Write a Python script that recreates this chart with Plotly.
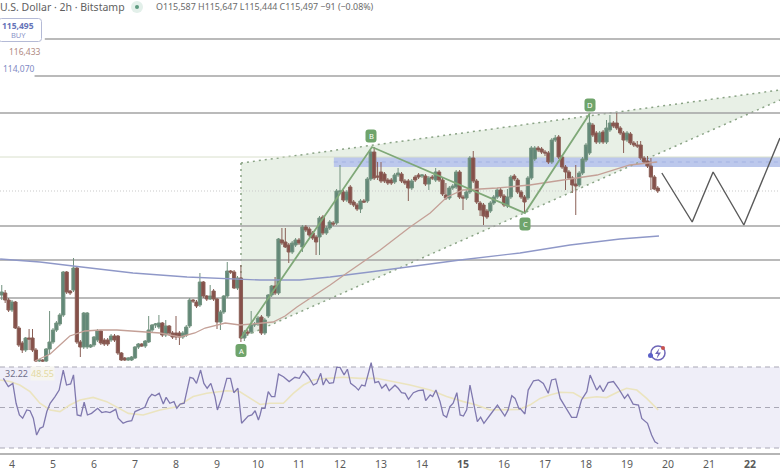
# BTC/USD 2h chart with XABCD pattern and RSI pane
import numpy as np
import plotly.graph_objects as go

COLOR_UP = "#628878"
COLOR_DOWN = "#86504a"
COLOR_WICK_UP = "#72927f"
COLOR_WICK_DOWN = "#8a5f56"
COLOR_LEVEL = "#a3a3a3"
COLOR_PATTERN = "#7fa878"
COLOR_LABEL = "#6fa46b"
COLOR_RSI = "#7f78ae"
COLOR_RSI_MA = "#ebe4bf"
FONT = "Noto Sans"

opens = [112380,112440,112230,111930,112170,111390,110940,110730,111090,111090,110730,110400,110430,110400,110760,110970,111330,111510,111780,113070,
         112500,112530,113190,110970,110820,110820,110820,110880,111030,111300,111030,111030,111030,111150,111150,110640,110490,110430,110430,110490,
         110820,110910,110850,110970,111330,111480,111420,111540,111180,111450,111240,111240,111240,111120,111180,111450,112230,112170,112080,112770,
         112350,112260,112500,112260,111570,111870,112350,113100,113070,112590,112890,111090,111270,111270,111480,111510,111720,111240,111750,112380,
         112650,112440,114030,113970,113880,113670,113880,114030,113820,114420,114360,114240,114120,114120,114720,114240,114390,114540,114540,115470,
         115470,115230,115620,115170,115080,114960,115200,115200,115860,116670,115950,116070,116010,115830,115830,115770,115980,116010,115800,115800,
         115590,115920,115980,115950,115950,115710,115920,115830,116070,115830,115380,115290,115590,115620,116070,115320,115290,115470,116490,115800,
         115140,115080,114900,114900,115140,115320,115530,115350,115050,115320,115950,115830,115470,115320,115290,115890,116460,116790,116760,116670,
         116640,116370,117030,117120,116520,116220,116070,115890,115710,115680,116040,116430,116640,117480,117240,116970,117270,116970,117330,117540,
         117540,117390,117240,117030,117210,116940,116880,116880,116490,116400,116250,115920,115590]
closes = [112470,112230,111930,112170,111390,110880,110730,111090,111060,110730,110400,110430,110400,110760,110970,111330,111540,111780,113070,112470,
          112440,113190,110970,110820,111840,111840,110880,111120,111300,110940,110910,110910,111150,111030,110640,110430,110430,110490,110520,110820,
          110910,110850,111000,111330,111480,111510,111540,111180,111450,111240,111120,111120,111120,111240,111420,112230,112200,112050,112770,112350,
          112260,112350,112260,111570,111870,112350,113100,113070,112590,112890,111090,111270,111240,111480,111510,111690,111240,111630,112380,112650,
          112440,114060,113940,113820,113670,113940,114030,113940,114420,114330,114180,114090,113970,114690,114240,114390,114570,114510,115500,115500,
          115230,115470,115140,115080,114960,115200,115170,115860,116670,115890,115920,115800,115800,115740,115740,115980,116040,115800,115740,115590,
          115800,115830,115920,115980,115710,115890,115890,116070,115830,115410,115290,115590,115650,116070,115320,115290,115470,116490,115800,115170,
          114930,114750,114720,115140,115320,115530,115350,115080,115320,115920,115860,115470,115320,115170,115890,116790,116790,116730,116670,116640,
          116370,117030,117090,116520,116220,116070,115890,115680,115650,116040,116460,116880,117540,117180,116970,117240,116970,117390,117540,117450,
          117390,117240,117030,117240,116940,116880,116850,116490,116370,116250,115920,115560,115500]
highs = [112680,112530,112290,112230,112200,111450,111000,111120,111360,111360,110790,110460,110460,110790,111900,111390,111600,111840,113100,113100,
         112530,113490,113250,111030,111870,111870,110910,111150,111360,111330,111090,111090,111210,111210,111180,110670,110520,110520,110550,110850,
         110940,110940,111030,111750,111510,111540,111780,111570,111630,111480,111300,111750,111300,111300,111480,112290,112260,112230,113040,112800,
         112380,112680,112560,112290,111930,112380,113370,113130,113130,112950,113280,111330,111330,111900,111570,111750,111780,111690,112410,112680,
         112920,114090,114390,114390,113940,114000,114090,114090,114480,114480,114420,114300,114180,114750,114780,114450,114630,114600,115560,116280,
         115530,115530,115680,115230,115140,115260,115260,115920,116730,116820,116370,116370,116070,115890,115890,116040,116190,116070,115860,115860,
         115860,115980,116040,116010,116010,115950,115980,116190,116130,115890,115740,115650,115710,116130,116130,115380,115530,116550,116700,115860,
         115200,115140,114960,115200,115380,115590,115590,115410,115560,115980,116010,115890,115530,115380,115950,116850,116850,116850,116820,116730,
         116700,117090,117180,117180,116580,116280,116130,115950,116280,116100,116520,116940,117840,117540,117300,117300,117330,117630,117780,117600,
         117840,117450,117300,117300,117270,117000,117000,117000,116550,116550,116490,115980,115650]
lows = [112230,112140,111870,111870,111360,110820,110640,110670,110730,110670,110370,110370,110370,110370,110610,110910,111270,111450,111720,112410,
        112380,112470,110910,110520,110760,110760,110790,110820,110970,110880,110850,110850,110970,110970,110580,110400,110400,110400,110400,110460,
        110760,110820,110790,110940,111270,111390,111360,111120,111120,111150,111060,111030,110880,111060,111120,111390,112140,111990,112020,112290,
        112200,112230,112200,111360,111330,111810,112290,113010,112560,112530,110970,111000,111180,111210,111420,111450,111180,111180,111690,112320,
        112380,112380,113880,113790,113340,113610,113820,113880,113670,114270,114120,114030,113580,113580,114180,114180,114330,114450,114480,115410,
        115170,115170,115080,115020,114900,114840,115140,115140,115800,115830,115830,115740,115740,115680,115680,115710,115920,115740,115680,115200,
        115530,115770,115860,115890,115650,115530,115830,115770,115770,115350,115230,115230,115530,115560,115260,114930,115230,115410,115740,115110,
        114750,114480,114660,114840,115080,115260,115290,115020,114990,115260,115800,115410,115260,114840,115230,115830,116400,116670,116610,116550,
        116310,116310,116970,116460,116160,115530,115830,115440,114780,115620,115980,116370,116580,117120,116910,116910,116910,116910,117270,117390,
        117330,117180,116640,116970,116880,116820,116790,116430,116310,116190,115530,115530,115440]
candle_day = 3.75 + np.arange(len(opens)) / 12

# moving averages, day / price
ma_red_day = [4.56,4.93,5.17,5.41,5.78,6.15,6.56,7.27,7.61,8.10,8.46,8.71,9.20,9.56,10.10,10.37,10.66,10.95,11.39,11.76,12.17,12.68,12.98,13.71,14.20,14.61,15.00,15.83,16.63,17.44,18.27,19.07,19.73]
ma_red = [110400,110610,110880,111150,111300,111330,111330,111270,111240,111120,111240,111390,111540,111480,111540,111570,111750,112020,112380,112680,113040,113490,113730,114420,114840,115320,115530,115590,115680,115830,115980,116280,116370]
ma_blue_day = [3.71,4.68,5.49,6.95,8.27,9.32,10.05,11.02,11.76,12.73,13.46,14.93,16.39,17.61,18.83,19.78]
ma_blue = [113460,113370,113250,113040,112920,112860,112830,112830,112920,113070,113190,113430,113640,113880,114060,114150]

# XABCD pattern, wedge and projection
wedge_day = [9.585,22.73,22.73,9.585]
wedge_price = [116340,118530,118230,111090]
zigzag_day = [9.585,12.78,16.51,18.10]
zigzag_price = [111090,116820,114840,117840]
zigzag_names = ["A","B","C","D"]
forecast_day = [19.85,20.59,21.10,21.85,22.73]
forecast_price = [116040,114570,116070,114480,117090]

# horizontal levels
levels = [120060,118950,117840,114450,113430,112290]
level_start = [4.8,4.55,3.7,3.7,3.7,3.7]
level_thin = 116520
level_dotted = 115500
zone_start = 11.85
zone_top = 116520
zone_bottom = 116220
zone_mid = 116370

rsi_day = [3.79,3.91,4.02,4.10,4.18,4.26,4.36,4.44,4.52,4.60,4.68,4.76,4.85,4.93,5.05,5.15,5.25,5.33,5.43,5.50,5.59,5.68,5.76,5.84,5.94,6.09,6.19,6.29,6.39,6.53,6.59,6.71,6.80,6.92,
           7.00,7.12,7.24,7.33,7.41,7.49,7.59,7.69,7.76,7.85,7.95,8.02,8.10,8.20,8.34,8.42,8.50,8.60,8.68,8.76,8.85,8.95,9.01,9.11,9.24,9.33,9.41,9.51,9.60,9.76,9.85,9.93,10.01,
           10.05,10.09,10.17,10.25,10.33,10.41,10.50,10.62,10.76,10.90,11.01,11.11,11.23,11.35,11.43,11.53,11.59,11.66,11.74,11.84,11.92,12.00,12.10,12.18,12.26,12.37,12.45,12.53,12.61,12.69,12.76,12.85,12.94,
           13.02,13.12,13.20,13.34,13.42,13.50,13.59,13.67,13.79,13.91,14.03,14.09,14.20,14.26,14.34,14.44,14.52,14.60,14.68,14.76,14.85,14.93,15.01,15.09,15.17,15.35,15.43,15.51,15.66,15.84,16.02,16.10,16.19,16.27,16.37,
           16.39,16.51,16.59,16.72,16.84,16.96,17.08,17.16,17.26,17.37,17.49,17.65,17.77,17.89,18.02,18.10,18.26,18.34,18.42,18.54,18.67,18.79,18.94,19.02,19.15,19.28,19.36,19.50,19.60,19.68,19.76]
rsi = [64.4,60.3,61.9,52.1,46.3,44.7,48.8,48.4,44.7,36.4,39.7,40.5,48.0,52.1,55.4,58.6,68.5,61.1,61.6,66.1,46.3,45.8,52.6,46.3,47.1,49.6,47.5,48.0,47.5,49.1,44.7,42.2,43.0,43.5,
       48.0,49.1,50.1,54.5,56.5,55.8,57.0,51.7,55.0,52.1,52.9,49.6,51.7,52.1,64.9,64.4,61.9,68.5,61.9,59.5,61.9,55.4,48.8,54.5,64.4,64.4,57.3,59.5,42.2,45.8,46.3,48.4,43.8,
       46.3,49.6,49.6,57.8,55.4,55.4,66.5,65.2,62.8,64.9,64.4,68.0,65.2,61.1,61.9,66.9,61.1,64.1,61.9,62.3,69.8,69.8,66.1,68.9,61.9,60.3,58.6,61.1,60.6,66.9,72.1,62.3,62.8,
       59.5,61.4,58.3,61.0,59.5,57.3,57.0,54.0,57.3,58.3,58.6,53.4,56.2,55.4,58.6,52.9,46.3,45.2,50.4,52.1,57.3,46.3,45.8,48.8,61.1,43.0,45.2,42.2,46.3,51.2,45.8,48.8,55.8,54.5,49.1,
       49.6,46.8,58.6,63.2,63.6,61.9,57.0,63.6,64.1,54.5,50.4,45.1,45.1,53.7,57.8,66.0,58.6,60.8,57.8,62.3,62.8,59.5,54.5,56.5,51.7,51.2,44.6,42.2,36.4,33.1,32.1]
rsi_ma_day = [3.71,3.95,4.19,4.44,4.68,4.93,5.17,5.41,5.66,5.98,6.31,6.55,6.84,7.20,7.61,8.02,8.42,8.75,9.24,9.56,9.80,10.05,
              10.29,10.62,10.86,11.11,11.35,11.68,12.08,12.49,12.89,13.30,13.71,14.20,14.60,15.01,15.33,15.66,15.98,16.37,
              16.63,16.88,17.12,17.37,17.69,17.93,18.26,18.50,18.79,18.99,19.24,19.48,19.76]
rsi_ma = [63.6,62.8,61.1,57.8,52.1,48.8,48.0,51.2,53.7,55.0,52.9,50.4,47.1,46.3,48.8,50.4,55.4,57.0,58.3,57.8,54.5,51.5,
          52.1,52.1,57.0,61.1,63.6,64.4,64.9,64.4,64.4,62.8,61.1,58.6,55.4,52.9,51.2,48.8,48.8,49.0,
          51.2,54.5,56.2,57.5,57.3,54.5,55.3,54.9,57.8,59.5,58.6,54.5,48.8]
rsi_levels = [70,50,30]

tick_days = [4,5,6,7,8,9,10,11,12,13,14,15,16,17,18,19,20,21,22]
tick_text = ["4","5","6","7","8","9","10","11","12","13","14","<b>15</b>","16","17","18","19","20","21","<b>22</b>"]

X_RANGE = [3.7073,22.7317]
W, H = 780, 470

# pixel helpers for the overlay bits (labels, icon)
def px(x):
    return x / W
def py(y):
    return 1 - y / H

def round_box(cx, cy, w, h, r):
    l, t, rt, b = cx - w / 2, cy - h / 2, cx + w / 2, cy + h / 2
    return (f"M {px(l + r)} {py(t)} L {px(rt - r)} {py(t)} Q {px(rt)} {py(t)} {px(rt)} {py(t + r)} "
            f"L {px(rt)} {py(b - r)} Q {px(rt)} {py(b)} {px(rt - r)} {py(b)} L {px(l + r)} {py(b)} "
            f"Q {px(l)} {py(b)} {px(l)} {py(b - r)} L {px(l)} {py(t + r)} Q {px(l)} {py(t)} {px(l + r)} {py(t)} Z")

def seg(x0, x1, y0, y1, **line):
    # data-space line under the candles (box layer paints above scatter fills otherwise)
    return dict(type="line", xref="x", yref="y", x0=x0, x1=x1, y0=y0, y1=y1, layer="below", line=line)

shapes = []
annotations = []

# wedge, zone and levels go under the candles
wedge_path = "M " + " L ".join(f"{d} {p}" for d, p in zip(wedge_day, wedge_price)) + " Z"
shapes.append(dict(type="path", xref="x", yref="y", path=wedge_path, fillcolor="#e8f0e6", line=dict(width=0), layer="below"))
shapes.append(dict(type="rect", xref="x", yref="y", x0=zone_start, x1=X_RANGE[1], y0=zone_bottom, y1=zone_top,
                   fillcolor="#bcc8ec", line=dict(width=0), layer="below"))
DOTS = dict(color="#8aa385", width=1.5, dash="2px,4px")
shapes.append(seg(wedge_day[0], wedge_day[1], wedge_price[0], wedge_price[1], **DOTS))
shapes.append(seg(wedge_day[3], wedge_day[2], wedge_price[3], wedge_price[2], **DOTS))
shapes.append(seg(wedge_day[0], wedge_day[3], wedge_price[0], wedge_price[3], **DOTS))
shapes.append(seg(zone_start, X_RANGE[1], zone_mid, zone_mid, color="#a3b2e2", width=1, dash="4px,4px"))
shapes.append(seg(X_RANGE[0], X_RANGE[1], level_thin, level_thin, color="#d9e0cc", width=1))
shapes.append(seg(X_RANGE[0], X_RANGE[1], level_dotted, level_dotted, color="#c9c9c9", width=1, dash="1px,2px"))
for lv, st in zip(levels, level_start):
    shapes.append(seg(st, X_RANGE[1], lv, lv, color=COLOR_LEVEL, width=1.6))

fig = go.Figure()

fig.add_trace(go.Candlestick(x=candle_day, open=opens, high=highs, low=lows, close=closes,
                             increasing=dict(fillcolor=COLOR_UP, line=dict(color=COLOR_WICK_UP, width=1)),
                             decreasing=dict(fillcolor=COLOR_DOWN, line=dict(color=COLOR_WICK_DOWN, width=1))))

# moving averages
fig.add_trace(go.Scatter(x=ma_blue_day, y=ma_blue, mode="lines", hoverinfo="skip", line=dict(color="#8f98c8", width=1.3)))
fig.add_trace(go.Scatter(x=ma_red_day, y=ma_red, mode="lines", hoverinfo="skip", line=dict(color="#c4a097", width=1.3)))

# pattern and projection
fig.add_trace(go.Scatter(x=zigzag_day, y=zigzag_price, mode="lines", hoverinfo="skip", line=dict(color=COLOR_PATTERN, width=1.8)))
fig.add_trace(go.Scatter(x=forecast_day, y=forecast_price, mode="lines", hoverinfo="skip", line=dict(color="#5a5a5a", width=1.4)))

# RSI pane
fig.add_trace(go.Scatter(x=[X_RANGE[0], X_RANGE[1], X_RANGE[1], X_RANGE[0]], y=[rsi_levels[0], rsi_levels[0], rsi_levels[2], rsi_levels[2]],
                         yaxis="y2", fill="toself", fillcolor="#efeef8", mode="lines", line=dict(width=0), hoverinfo="skip"))
for lv in rsi_levels:
    fig.add_trace(go.Scatter(x=X_RANGE, y=[lv, lv], yaxis="y2", mode="lines", hoverinfo="skip",
                             line=dict(color="#a9a8b6", width=1.2, dash="5px,4px")))
fig.add_trace(go.Scatter(x=rsi_ma_day, y=rsi_ma, yaxis="y2", mode="lines", hoverinfo="skip", line=dict(color=COLOR_RSI_MA, width=1.6)))
fig.add_trace(go.Scatter(x=rsi_day, y=rsi, yaxis="y2", mode="lines", hoverinfo="skip", line=dict(color=COLOR_RSI, width=1.3)))

def text(x, y, s, size=10, color="#555555", anchor="left", **kw):
    annotations.append(dict(x=px(x), y=py(y), xref="paper", yref="paper", text=s, showarrow=False, xanchor=anchor,
                            yanchor="middle", font=dict(family=FONT, size=size, color=color), borderpad=0, **kw))

# header
text(-1, 7, "U.S. Dollar · 2h · Bitstamp", size=10.5, color="#5f5f5f")
shapes.append(dict(type="circle", xref="paper", yref="paper", x0=px(131), x1=px(143), y0=py(13), y1=py(1), fillcolor="#e3f0ea", line=dict(width=0)))
shapes.append(dict(type="circle", xref="paper", yref="paper", x0=px(135), x1=px(139), y0=py(9), y1=py(5), fillcolor="#5e9a80", line=dict(width=0)))
text(155, 7, "O115,587 H115,647 L115,444 C115,497 −91 (−0.08%)", size=8.9, color="#6a6a6a")

# buy box and price tags
shapes.append(dict(type="path", xref="paper", yref="paper", path=round_box(20, 30, 43, 23, 3), fillcolor="#ffffff", line=dict(color="#b4bad6", width=1)))
text(18, 25, "<b>115,495</b>", size=8.5, color="#6674b8", anchor="center")
text(18, 35, "BUY", size=7.5, color="#8a94c8", anchor="center")
text(8, 52, "116,433", size=8.5, color="#b08a82")
text(2, 68, "114,070", size=8.5, color="#7f8ac4")

# pattern point labels
label_pos = [(241, 350.5), (371, 136), (525, 224), (590, 105)]
for name, (cx, cy) in zip(zigzag_names, label_pos):
    shapes.append(dict(type="path", xref="paper", yref="paper", path=round_box(cx, cy, 11, 13, 3), fillcolor=COLOR_LABEL, line=dict(width=0)))
    text(cx, cy, name, size=7.5, color="#ffffff", anchor="center")

# rsi values
text(4, 373, "32.22", size=9, color="#6f6f8a")
text(30, 373, "48.55", size=9, color="#e3d9a2", bgcolor="#f6f5f0")

# lightning icon
shapes.append(dict(type="circle", xref="paper", yref="paper", x0=px(651), x1=px(665), y0=py(360), y1=py(346), line=dict(color="#6e66b8", width=1.5)))
shapes.append(dict(type="path", xref="paper", yref="paper",
                   path=f"M {px(659.5)} {py(348)} L {px(655)} {py(354)} L {px(658)} {py(354)} L {px(656.5)} {py(359)} L {px(661)} {py(352.5)} L {px(658)} {py(352.5)} Z",
                   fillcolor="#6e66b8", line=dict(width=0)))
shapes.append(dict(type="circle", xref="paper", yref="paper", x0=px(661), x1=px(665), y0=py(350), y1=py(346), fillcolor="#c8524e", line=dict(width=0)))
shapes.append(dict(type="circle", xref="paper", yref="paper", x0=px(648), x1=px(653), y0=py(358), y1=py(353), fillcolor="#5a5fc8", line=dict(width=0)))

fig.update_layout(
    width=W, height=H, margin=dict(l=0, r=0, t=0, b=0, pad=0),
    paper_bgcolor="#ffffff", plot_bgcolor="rgba(0,0,0,0)", showlegend=False,
    boxgap=0.05, boxgroupgap=0,
    shapes=shapes, annotations=annotations,
    xaxis=dict(range=X_RANGE, anchor="y2", domain=[0, 1], tickmode="array", tickvals=tick_days, ticktext=tick_text,
               tickfont=dict(family=FONT, size=10.5, color="#5a5a5a"), showgrid=False, zeroline=False,
               showline=True, linecolor="#b5b5b5", linewidth=2, ticks="", rangeslider=dict(visible=False)),
    yaxis=dict(range=[110250, 121230], domain=[104 / H, 1], showgrid=False, zeroline=False, showticklabels=False, ticks=""),
    yaxis2=dict(range=[27.53, 74.44], domain=[17 / H, 112 / H], showgrid=False, zeroline=False, showticklabels=False, ticks=""),
)

fig.write_html("out.html", config=dict(displayModeBar=False), post_script="document.body.style.margin='0';")
